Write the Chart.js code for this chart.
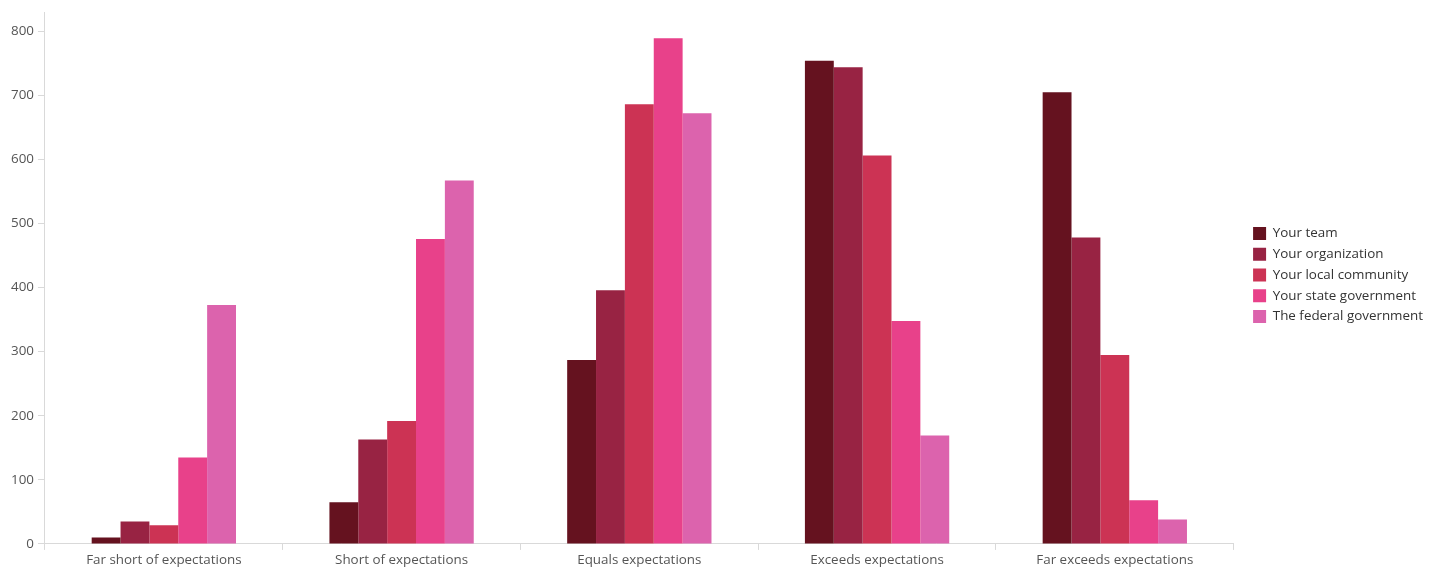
<!DOCTYPE html>
<html>
<head>
<meta charset="utf-8">
<script src="https://cdn.jsdelivr.net/npm/chart.js@4.4.0/dist/chart.umd.min.js"></script>
<style>
html,body{margin:0;padding:0;background:#fff;}
#wrap{position:relative;width:1440px;height:570px;}
</style>
</head>
<body>
<div id="wrap"><canvas id="c" width="1440" height="570"></canvas></div>
<script>
const categories = ["Far short of expectations","Short of expectations","Equals expectations","Exceeds expectations","Far exceeds expectations"];
const seriesNames = ["Your team","Your organization","Your local community","Your state government","The federal government"];
const yourTeam = [10, 65, 287, 754, 705];
const yourOrganization = [35, 163, 396, 744, 478];
const yourLocalCommunity = [29, 192, 686, 606, 295];
const yourStateGovernment = [135, 476, 789, 348, 68];
const federalGovernment = [373, 567, 672, 169, 38];
const yTicks = [0,100,200,300,400,500,600,700,800];

const colors = ["#65121f","#982343","#cc3354","#e8418a","#dc63ad"];
const values = [yourTeam, yourOrganization, yourLocalCommunity, yourStateGovernment, federalGovernment];

Chart.defaults.font.family = "'Open Sans', 'DejaVu Sans', sans-serif";
Chart.defaults.font.size = 13.4;

const legendTweak = {
  id: 'legendTweak',
  beforeInit(chart) {
    const lg = chart.legend;
    if (!lg) return;
    const origFit = lg.fit.bind(lg);
    lg.fit = function() { origFit(); this.width += 7; };
  },
  afterLayout(chart) {
    const lg = chart.legend;
    if (!lg) return;
    lg.left += 12; lg.right += 12;
    lg.top -= 15; lg.bottom -= 15;
  }
};

new Chart(document.getElementById('c'), {
  type: 'bar',
  data: {
    labels: categories,
    datasets: seriesNames.map((n,i)=>({
      label: n,
      data: values[i],
      backgroundColor: colors[i],
      borderWidth: 0,
      barPercentage: 1.0,
      categoryPercentage: 0.607
    }))
  },
  plugins: [legendTweak],
  options: {
    responsive: false,
    animation: false,
    layout: { padding: { top: 10, left: 7, right: 12, bottom: 0 } },
    plugins: {
      tooltip: { enabled: false },
      legend: {
        position: 'right',
        align: 'center',
        labels: {
          boxWidth: 13,
          boxHeight: 13,
          padding: 7.4,
          color: '#333',
          font: { size: 13.4 }
        }
      }
    },
    scales: {
      x: {
        grid: { display: true, drawOnChartArea: false, drawTicks: true, tickLength: 6, color: '#d9d9d9', offset: true },
        border: { display: true, color: '#d9d9d9' },
        ticks: { color: '#555', font: { size: 13.4 }, padding: 2, maxRotation: 0 }
      },
      y: {
        min: 0,
        max: 830,
        afterBuildTicks: (scale) => { scale.ticks = yTicks.map(v => ({ value: v })); },
        grid: { display: true, drawOnChartArea: false, drawTicks: true, tickLength: 7, color: '#d9d9d9' },
        border: { display: true, color: '#d9d9d9' },
        ticks: { color: '#555', font: { size: 13.4 }, padding: 4 }
      }
    }
  }
});
</script>
</body>
</html>
